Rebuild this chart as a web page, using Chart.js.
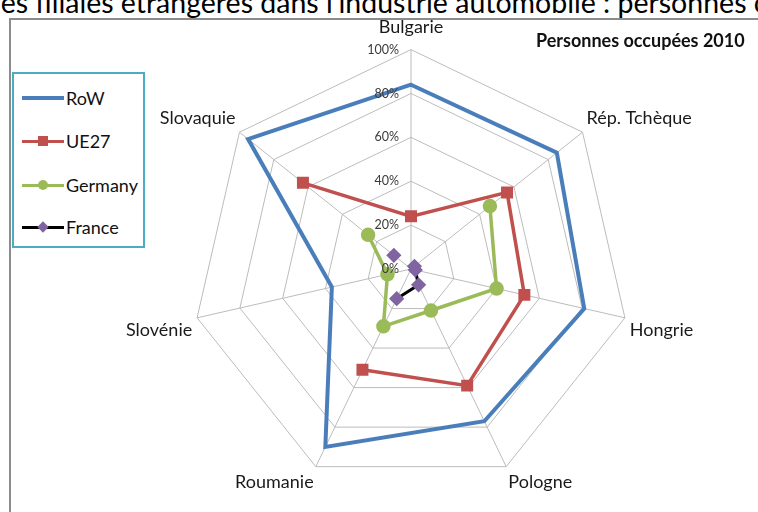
<!DOCTYPE html>
<html>
<head>
<meta charset="utf-8">
<script src="https://cdn.jsdelivr.net/npm/chart.js@4.4.1/dist/chart.umd.min.js"></script>
<style>
  body { margin: 0; width: 758px; height: 512px; overflow: hidden; background: #fff; position: relative;
         font-family: Lato, "Open Sans", sans-serif; }
  #title { position: absolute; top: -12px; left: 0; white-space: nowrap; font-size: 28.5px; line-height: 28px; color: #000; }
  #frame { position: absolute; left: 9px; top: 18px; width: 760px; height: 510px;
           border-left: 2px solid #8c8c8c; border-top: 2px solid #8c8c8c; }
  #chart { position: absolute; left: 0; top: 0; }
  #subtitle { position: absolute; left: 536px; top: 29px; font-size: 18px; font-weight: bold; color: #111; white-space: nowrap; }
  #legend { position: absolute; left: 12px; top: 72px; width: 129px; height: 172px; border: 2px solid #4bacc6; background: #fff; }
  .item { position: absolute; left: 8px; height: 22px; font-size: 18px; color: #111; }
  .item .sw { position: absolute; left: 0; width: 42px; height: 0; }
  .item .mk { position: absolute; }
  .item span.t { position: absolute; left: 44px; top: 0; line-height: 22px; }
</style>
</head>
<body>
<div id="title">Part des filiales étrangères dans l'industrie automobile : personnes occupées</div>
<div id="frame"></div>
<canvas id="chart" width="758" height="512"></canvas>
<div id="subtitle">Personnes occupées 2010</div>
<div id="legend"></div>

<script>
// ---------------------------------------------------------------------------
// Data (share of persons employed, %)
// ---------------------------------------------------------------------------

const categories = ["Bulgarie", "Rép. Tchèque", "Hongrie", "Pologne", "Roumanie", "Slovénie", "Slovaquie"];
const rowValues     = [84, 85, 81, 77, 90, 37, 95];
const ue27Values    = [24, 56, 53, 59, 51, null, 63];
const germanyValues = [null, 46, 40, 21, 29, 11, 25];
const franceValues  = [null, 2, 2, 8, 15, null, 10];
const tickValues = [0, 20, 40, 60, 80, 100];

const FONT = "Lato, 'Open Sans', sans-serif";

// the page title is cut at the left edge in the original capture
(function () {
  const t = document.getElementById("title");
  const c = document.createElement("canvas").getContext("2d");
  c.font = "28.5px " + FONT;
  t.style.left = -Math.round(c.measureText("Part d").width) + 1 + "px";
})();

// ---------------------------------------------------------------------------
// Legend (Excel style box)
// ---------------------------------------------------------------------------

const legendItems = [
  { label: "RoW",     line: "#4a7ebb", width: 4, marker: null },
  { label: "UE27",    line: "#c0504d", width: 3, marker: "square",  color: "#c0504d" },
  { label: "Germany", line: "#9bbb59", width: 3, marker: "circle",  color: "#9bbb59" },
  { label: "France",  line: "#000000", width: 3, marker: "diamond", color: "#8064a2" },
];
const legendTops = [13, 56, 100, 142];

const legend = document.getElementById("legend");
legendItems.forEach((it, i) => {
  const d = document.createElement("div");
  d.className = "item";
  d.style.top = legendTops[i] + "px";
  let mk = "";
  if (it.marker === "square")
    mk = `<div class="mk" style="top:6px;left:16px;width:10px;height:10px;background:${it.color}"></div>`;
  if (it.marker === "circle")
    mk = `<div class="mk" style="top:6px;left:16px;width:10px;height:10px;border-radius:50%;background:${it.color}"></div>`;
  if (it.marker === "diamond")
    mk = `<div class="mk" style="top:7px;left:17px;width:8px;height:8px;transform:rotate(45deg);background:${it.color}"></div>`;
  d.innerHTML = `<div class="sw" style="border-top:${it.width}px solid ${it.line};top:${11 - it.width / 2}px"></div>${mk}<span class="t">${it.label}</span>`;
  legend.appendChild(d);
});

// ---------------------------------------------------------------------------
// Tick labels drawn left of the vertical axis
// ---------------------------------------------------------------------------

const tickLabelPlugin = {
  id: "tickLabels",
  afterDatasetsDraw(chart) {
    const s = chart.scales.r;
    const ctx = chart.ctx;
    ctx.save();
    ctx.font = "12.5px " + FONT;
    ctx.fillStyle = "#3a3a3a";
    ctx.textAlign = "right";
    ctx.textBaseline = "middle";
    tickValues.forEach((v) => {
      const d = s.getDistanceFromCenterForValue(v);
      ctx.fillText(v + "%", s.xCenter - 12, s.yCenter - d);
    });
    ctx.restore();
  },
};

// ---------------------------------------------------------------------------
// Chart
// ---------------------------------------------------------------------------

new Chart(document.getElementById("chart"), {
  type: "radar",
  data: {
    labels: categories,
    datasets: [
      { label: "RoW", data: rowValues, borderColor: "#4a7ebb", borderWidth: 4, pointRadius: 0,
        fill: false, order: 3 },
      { label: "UE27", data: ue27Values, borderColor: "#c0504d", borderWidth: 3.5, pointStyle: "rect",
        pointRadius: 6, pointBackgroundColor: "#c0504d", pointBorderColor: "#c0504d", fill: false, order: 2 },
      { label: "Germany", data: germanyValues, borderColor: "#9bbb59", borderWidth: 3.5, pointStyle: "circle",
        pointRadius: 5.5, pointBackgroundColor: "#9bbb59", pointBorderColor: "#9bbb59", fill: false, order: 1 },
      { label: "France", data: franceValues, borderColor: "#000", borderWidth: 3, pointStyle: "rectRot",
        pointRadius: 5.5, pointBackgroundColor: "#8064a2", pointBorderColor: "#8064a2", fill: false, order: 0 },
    ],
  },
  options: {
    responsive: false,
    animation: false,
    devicePixelRatio: 1,
    spanGaps: false,
    layout: { padding: { left: 86, right: 22, top: 0, bottom: 6 } },
    elements: { line: { tension: 0 } },
    plugins: { legend: { display: false }, tooltip: { enabled: false } },
    scales: {
      r: {
        min: 0,
        max: 100,
        ticks: { display: false, stepSize: 20 },
        grid: { color: "#bcbcbc", lineWidth: 1 },
        angleLines: { color: "#bcbcbc", lineWidth: 1 },
        pointLabels: {
          color: "#1a1a1a",
          font: { size: 18, family: FONT },
          padding: (ctx) => (ctx.index === 0 ? 12 : 5),
        },
      },
    },
  },
  plugins: [tickLabelPlugin],
});
</script>
</body>
</html>
